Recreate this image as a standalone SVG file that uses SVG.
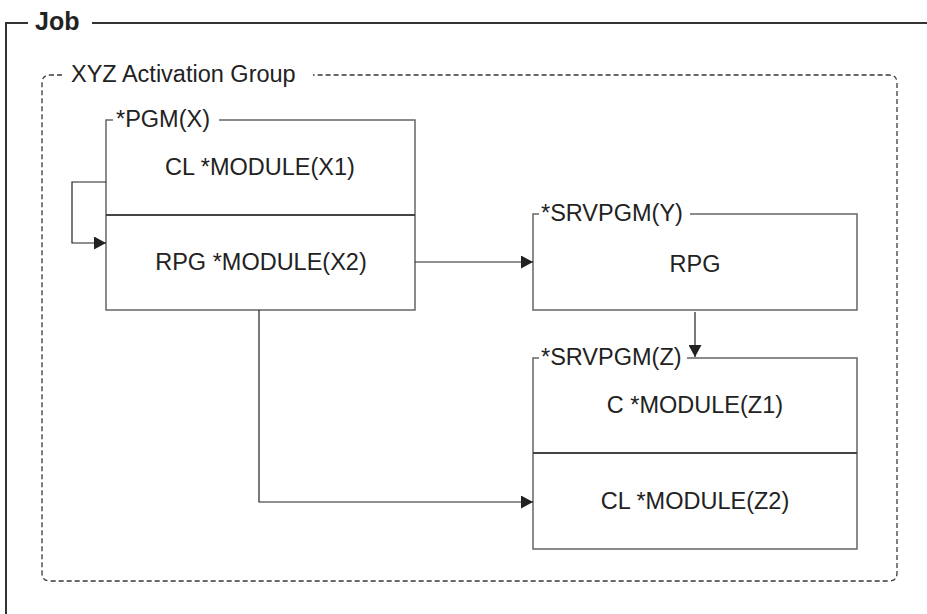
<svg xmlns="http://www.w3.org/2000/svg" width="927" height="614" viewBox="0 0 927 614">
<style>
text{font-family:"Liberation Sans",Arial,Helvetica,sans-serif;fill:#222;font-size:23.5px}
.c{text-anchor:middle}
.job{font-weight:bold;font-size:25px}
.frame{fill:none;stroke:#333;stroke-width:2}
.ag{fill:none;stroke:#3a3a3a;stroke-width:1.3;stroke-dasharray:5 3}
.box{fill:none;stroke:#666;stroke-width:1.5}
.div{stroke:#444;stroke-width:2}
.conn path{fill:none;stroke:#222;stroke-width:1.2}
</style>
<defs>
<marker id="ah" markerUnits="userSpaceOnUse" markerWidth="12" markerHeight="13" refX="12" refY="6.5" orient="auto">
<path d="M0 0 L12 6.5 L0 13 Z" fill="#222"/>
</marker>
</defs>
<rect width="927" height="614" fill="#fff"/>
<g id="job">
<path class="frame" d="M28 23 H6 V614 M92 23 H927"/>
<text class="job" x="35" y="30">Job</text>
</g>
<g id="activation-group">
<path class="ag" d="M62 75 H50 Q42 75 42 83 V573 Q42 581 50 581 H889 Q897 581 897 573 V83 Q897 75 889 75 H313"/>
<text x="71" y="82">XYZ Activation Group</text>
</g>
<g id="pgm-x">
<path class="box" d="M113 120 H106 V310 H415 V120 H219"/>
<line class="div" x1="106" y1="215" x2="415" y2="215"/>
<text x="116" y="127">*PGM(X)</text>
<text class="c" x="260" y="175">CL *MODULE(X1)</text>
<text class="c" x="261" y="270">RPG *MODULE(X2)</text>
</g>
<g id="srvpgm-y">
<path class="box" d="M539 214 H533 V310 H857 V214 H690"/>
<text x="541" y="221">*SRVPGM(Y)</text>
<text class="c" x="695" y="272">RPG</text>
</g>
<g id="srvpgm-z">
<path class="box" d="M539 358 H533 V549 H857 V358 H687"/>
<line class="div" x1="533" y1="453" x2="857" y2="453"/>
<text x="541" y="365">*SRVPGM(Z)</text>
<text class="c" x="695" y="413">C *MODULE(Z1)</text>
<text class="c" x="695" y="509">CL *MODULE(Z2)</text>
</g>
<g id="connectors" class="conn">
<path d="M106 182 H72 V243 H106" marker-end="url(#ah)"/>
<path d="M415 262 H533" marker-end="url(#ah)"/>
<path d="M695 312 V357" marker-end="url(#ah)"/>
<path d="M259 310 V502 H533" marker-end="url(#ah)"/>
</g>
</svg>
